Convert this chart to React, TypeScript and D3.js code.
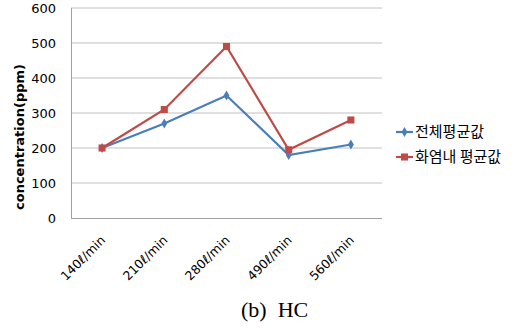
import React, { useRef, useEffect } from "react";
import * as d3 from "d3";

const categories = ["140ℓ/min", "210ℓ/min", "280ℓ/min", "490ℓ/min", "560ℓ/min"];
const seriesNames = ["전체평균값", "화염내 평균값"];
const overallAvg = [200, 270, 350, 180, 210];
const flameAvg = [200, 310, 490, 195, 280];
const yTicks = [0, 100, 200, 300, 400, 500, 600];
const colors = ["#4a7ebb", "#be4b48"];

const W = 530;
const H = 329;
const margin = { left: 71, right: 148, top: 8, bottom: 111 };

const App = () => {
  const svgRef = useRef<SVGSVGElement>(null);

  useEffect(() => {
    const svg = d3.select(svgRef.current);
    svg.selectAll("*").remove();

    const x = d3
      .scaleBand()
      .domain(categories)
      .range([margin.left, W - margin.right]);
    const y = d3
      .scaleLinear()
      .domain([0, 600])
      .range([H - margin.bottom, margin.top]);

    const font = "'DejaVu Sans', Verdana, sans-serif";

    // grid
    svg
      .selectAll(".grid")
      .data(yTicks.slice(1))
      .join("line")
      .attr("x1", margin.left)
      .attr("x2", W - margin.right)
      .attr("y1", (d) => y(d))
      .attr("y2", (d) => y(d))
      .attr("stroke", "#c0c0c0")
      .attr("stroke-width", 1);

    // axes
    svg
      .append("line")
      .attr("x1", margin.left + 0.5)
      .attr("x2", margin.left + 0.5)
      .attr("y1", margin.top)
      .attr("y2", y(0))
      .attr("stroke", "#a0a0a0");
    svg
      .append("line")
      .attr("x1", margin.left)
      .attr("x2", W - margin.right)
      .attr("y1", y(0) + 0.5)
      .attr("y2", y(0) + 0.5)
      .attr("stroke", "#a0a0a0");

    svg
      .selectAll(".ytick")
      .data(yTicks)
      .join("text")
      .attr("x", 56)
      .attr("y", (d) => y(d))
      .attr("dy", "0.35em")
      .attr("text-anchor", "end")
      .attr("font-family", font)
      .attr("font-size", 13)
      .text((d) => d);

    // y title sits a little below the plot's middle, as in the original
    svg
      .append("text")
      .attr("transform", `translate(24,137) rotate(-90)`)
      .attr("text-anchor", "middle")
      .attr("font-family", font)
      .attr("font-size", 13)
      .attr("font-weight", "bold")
      .text("concentration(ppm)");

    svg
      .selectAll(".xtick")
      .data(categories)
      .join("text")
      .attr(
        "transform",
        (d) => `translate(${x(d)! + x.bandwidth() / 2 + 4},${y(0) + 23}) rotate(-45)`
      )
      .attr("text-anchor", "end")
      .attr("font-family", font)
      .attr("font-size", 12.5)
      .text((d) => d);

    const line = d3
      .line<number>()
      .x((_, i) => x(categories[i])! + x.bandwidth() / 2)
      .y((d) => y(d));

    [overallAvg, flameAvg].forEach((vals, s) => {
      svg
        .append("path")
        .attr("d", line(vals))
        .attr("fill", "none")
        .attr("stroke", colors[s])
        .attr("stroke-width", 2.2);
      const pts = svg
        .selectAll(`.pt${s}`)
        .data(vals)
        .join("path")
        .attr("transform", (d, i) =>
          `translate(${x(categories[i])! + x.bandwidth() / 2},${y(d)})`
        )
        .attr("fill", colors[s]);
      if (s === 0) pts.attr("d", d3.symbol(d3.symbolDiamond, 30)());
      else pts.attr("d", d3.symbol(d3.symbolSquare, 50)());
    });

    // legend
    seriesNames.forEach((name, s) => {
      const ly = 132 + s * 25;
      svg
        .append("line")
        .attr("x1", 396)
        .attr("x2", 413)
        .attr("y1", ly)
        .attr("y2", ly)
        .attr("stroke", colors[s])
        .attr("stroke-width", 2.2);
      svg
        .append("path")
        .attr("transform", `translate(404.5,${ly})`)
        .attr(
          "d",
          s === 0
            ? d3.symbol(d3.symbolDiamond, 30)()
            : d3.symbol(d3.symbolSquare, 50)()
        )
        .attr("fill", colors[s]);
      svg
        .append("text")
        .attr("x", 415)
        .attr("y", ly)
        .attr("dy", "0.35em")
        .attr("font-family", "'Noto Sans CJK KR', sans-serif")
        .attr("font-size", 15)
        .text(name);
    });

    svg
      .append("text")
      .attr("x", 241)
      .attr("y", 317)
      .attr("font-family", "'Liberation Serif', 'Times New Roman', serif")
      .attr("font-size", 22)
      .style("white-space", "pre")
      .text("(b)  HC");
  }, []);

  return (
    <svg
      ref={svgRef}
      width={W}
      height={H}
      style={{ position: "absolute", left: 0, top: 0, background: "#fff" }}
    ></svg>
  );
};

export default App;
